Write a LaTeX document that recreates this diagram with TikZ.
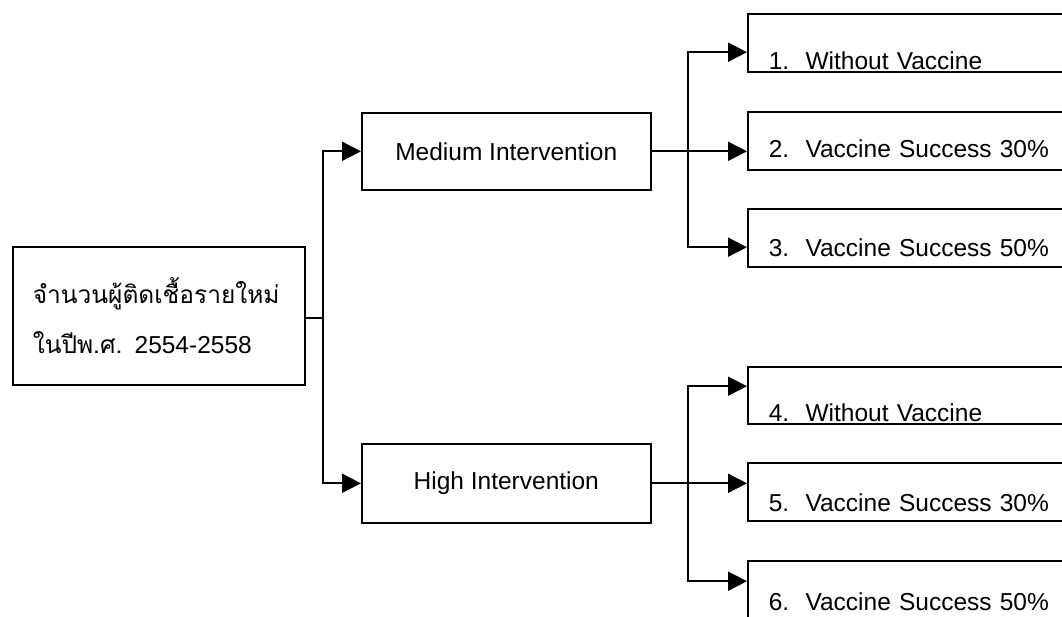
\documentclass[tikz,border=0pt]{standalone}
\usepackage{fontspec}
\setmainfont{Liberation Sans}
\newfontfamily\thaifont[Script=Thai]{Loma}
\usetikzlibrary{arrows.meta}
\begin{document}
\begin{tikzpicture}[x=1pt,y=-1pt,
  box/.style={draw, line width=1.6pt, inner sep=0pt},
  rbox/.style={box, anchor=south west, minimum width=340pt, inner xsep=21pt, text width=298pt, align=left},
  line/.style={line width=1.8pt},
  conn/.style={line width=1.8pt, -{Triangle[length=19pt,width=19pt]}},
  font=\fontsize{24.5}{30}\selectfont]
\useasboundingbox (0,0) rectangle (1062,616);
\clip (0,0) rectangle (1062,616);
\node[box, anchor=north west, minimum width=292pt, minimum height=138pt, inner xsep=20pt, text width=252pt, align=left, font=\fontsize{24.5}{50}\selectfont] (src) at (12,246)
  {{\thaifont จำนวนผู้ติดเชื้อรายใหม่}\\{\thaifont ในปีพ.ศ.} 2554-2558};
\node[box, anchor=north west, minimum width=289pt, minimum height=77pt] (med) at (361,112) {Medium Intervention};
\node[box, anchor=north west, minimum width=289pt, minimum height=79pt] (high) at (361,443) {High Intervention};
\node[rbox, text height=55pt, text depth=3pt] (b1) at (747,73) {1.~~Without Vaccine};
\node[rbox, text height=45pt, text depth=13pt] (b2) at (747,171) {2.~~Vaccine Success 30\%};
\node[rbox, text height=47pt, text depth=11pt] (b3) at (747,268) {3.~~Vaccine Success 50\%};
\node[rbox, text height=54pt, text depth=3pt] (b4) at (747,425) {4.~~Without Vaccine};
\node[rbox, text height=48pt, text depth=10pt] (b5) at (747,522) {5.~~Vaccine Success 30\%};
\node[rbox, text height=49pt, text depth=11pt] (b6) at (747,622) {6.~~Vaccine Success 50\%};
\coordinate (j0) at (323,318);
\coordinate (j1) at (688,150.5);
\coordinate (j2) at (688,482.5);
\draw[line] (src.east |- j0) -- (j0);
\draw[conn] (j0) |- (med.west);
\draw[conn] (j0) |- (high.west);
\draw[conn] (med.east) -- (med.east -| b2.west);
\draw[conn] (j1) |- ([yshift=-9pt]b1.west);
\draw[conn] (j1) |- ([yshift=-9pt]b3.west);
\draw[conn] (high.east) -- (high.east -| b5.west);
\draw[conn] (j2) |- ([yshift=9.5pt]b4.west);
\draw[conn] (j2) |- ([yshift=10pt]b6.west);
\end{tikzpicture}
\end{document}
